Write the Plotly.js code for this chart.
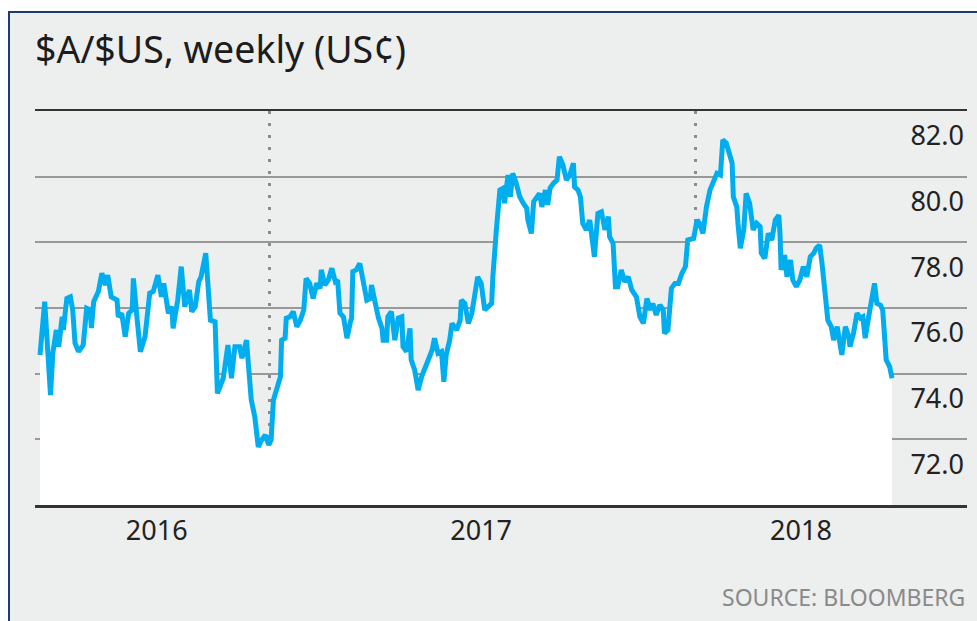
<!DOCTYPE html>
<html>
<head>
<meta charset="utf-8">
<script src="https://cdn.plot.ly/plotly-3.0.1.min.js"></script>
<style>
html,body{margin:0;padding:0;background:#fff;}
#chart{width:977px;height:621px;}
</style>
</head>
<body>
<div id="chart"></div>
<script>
const dates = [
"2016-06-18","2016-06-22","2016-06-27","2016-06-29","2016-07-02","2016-07-04","2016-07-07","2016-07-08","2016-07-11","2016-07-14",
"2016-07-16","2016-07-18","2016-07-21","2016-07-25","2016-07-28","2016-07-31","2016-08-01","2016-08-03","2016-08-07","2016-08-10",
"2016-08-13","2016-08-15","2016-08-18","2016-08-23","2016-08-24","2016-08-27","2016-08-30","2016-09-02","2016-09-05","2016-09-06",
"2016-09-09","2016-09-12","2016-09-16","2016-09-20","2016-09-23","2016-09-27","2016-09-30","2016-10-02","2016-10-06","2016-10-09",
"2016-10-10","2016-10-14","2016-10-17","2016-10-20","2016-10-24","2016-10-26","2016-10-29","2016-11-01","2016-11-03","2016-11-07",
"2016-11-11","2016-11-15","2016-11-17","2016-11-22","2016-11-26","2016-11-29","2016-12-02","2016-12-06","2016-12-08","2016-12-12",
"2016-12-13","2016-12-16","2016-12-19","2016-12-22","2016-12-25","2016-12-28","2016-12-31","2017-01-02","2017-01-04","2017-01-07",
"2017-01-10","2017-01-11","2017-01-14","2017-01-15","2017-01-18","2017-01-21","2017-01-24","2017-01-27","2017-01-30","2017-02-01",
"2017-02-04","2017-02-07","2017-02-10","2017-02-13","2017-02-14","2017-02-17","2017-02-20","2017-02-23","2017-02-26","2017-02-28",
"2017-03-02","2017-03-05","2017-03-08","2017-03-11","2017-03-12","2017-03-13","2017-03-16","2017-03-19","2017-03-22","2017-03-25",
"2017-03-28","2017-03-29","2017-04-01","2017-04-04","2017-04-07","2017-04-08","2017-04-11","2017-04-12","2017-04-15","2017-04-18",
"2017-04-21","2017-04-24","2017-04-25","2017-04-28","2017-05-01","2017-05-02","2017-05-05","2017-05-08","2017-05-11","2017-05-15",
"2017-05-20","2017-05-22","2017-05-25","2017-05-28","2017-05-30","2017-06-01","2017-06-04","2017-06-06","2017-06-10","2017-06-13",
"2017-06-14","2017-06-17","2017-06-20","2017-06-23","2017-06-28","2017-07-01","2017-07-04","2017-07-07","2017-07-10","2017-07-11",
"2017-07-13","2017-07-14","2017-07-17","2017-07-20","2017-07-21","2017-07-24","2017-07-26","2017-07-28","2017-07-31","2017-08-03",
"2017-08-06","2017-08-09","2017-08-10","2017-08-13","2017-08-15","2017-08-18","2017-08-20","2017-08-22","2017-08-25","2017-08-27",
"2017-08-29","2017-09-01","2017-09-04","2017-09-06","2017-09-09","2017-09-12","2017-09-15","2017-09-18","2017-09-19","2017-09-22",
"2017-09-24","2017-09-26","2017-09-29","2017-10-02","2017-10-04","2017-10-06","2017-10-09","2017-10-12","2017-10-15","2017-10-18",
"2017-10-19","2017-10-22","2017-10-24","2017-10-26","2017-10-29","2017-11-01","2017-11-04","2017-11-07","2017-11-11","2017-11-14",
"2017-11-17","2017-11-20","2017-11-23","2017-11-25","2017-11-28","2017-12-01","2017-12-04","2017-12-05","2017-12-08","2017-12-11",
"2017-12-14","2017-12-17","2017-12-20","2017-12-23","2017-12-25","2017-12-30","2018-01-02","2018-01-04","2018-01-07","2018-01-10",
"2018-01-13","2018-01-16","2018-01-19","2018-01-22","2018-01-23","2018-01-24","2018-01-27","2018-01-30","2018-02-01","2018-02-02",
"2018-02-05","2018-02-06","2018-02-08","2018-02-11","2018-02-13","2018-02-16","2018-02-19","2018-02-22","2018-02-25","2018-02-26",
"2018-03-01","2018-03-04","2018-03-07","2018-03-10","2018-03-13","2018-03-14","2018-03-15","2018-03-18","2018-03-20","2018-03-23",
"2018-03-25","2018-03-28","2018-03-31","2018-04-03","2018-04-06","2018-04-09","2018-04-12","2018-04-14","2018-04-17","2018-04-19",
"2018-04-22","2018-04-24","2018-04-27","2018-04-29","2018-05-02","2018-05-04","2018-05-06","2018-05-09","2018-05-12","2018-05-13",
"2018-05-16","2018-05-19","2018-05-22","2018-05-24","2018-05-26","2018-05-29","2018-06-01","2018-06-03","2018-06-05","2018-06-08",
"2018-06-10","2018-06-13","2018-06-16","2018-06-18"
];

const audUsdCents = [
74.57,76.19,73.35,74.63,75.33,74.82,75.73,75.33,76.29,76.34,
75.94,74.93,74.67,74.87,75.99,75.94,75.39,76.19,76.50,77.06,
76.70,77.00,76.34,76.24,75.73,75.84,75.13,75.84,75.94,76.90,
75.73,74.67,75.13,76.45,76.50,77.00,76.34,76.75,75.84,76.04,
75.38,76.24,77.26,76.04,76.55,75.89,76.04,76.80,76.95,77.67,
75.63,75.58,73.40,73.86,74.87,73.86,74.82,74.82,74.47,75.02,
74.52,73.20,72.69,71.77,71.98,72.13,71.83,71.98,73.20,73.50,
73.91,75.02,75.08,75.69,75.73,75.89,75.43,75.63,75.94,76.90,
76.75,76.29,76.75,76.60,77.16,76.70,76.85,77.21,76.80,76.85,
75.84,75.73,75.08,75.58,75.69,77.11,77.16,77.36,76.75,76.24,
76.29,76.70,76.19,75.69,75.38,75.02,75.02,75.73,75.89,75.02,
75.69,75.73,74.82,74.67,75.38,74.42,74.11,73.50,73.91,74.31,
74.72,75.08,74.62,74.67,73.75,74.57,75.02,75.53,75.33,75.63,
76.24,76.14,75.53,75.84,76.95,76.75,75.94,76.04,76.14,76.95,
78.27,78.38,79.59,79.65,79.19,80.05,79.39,80.10,79.80,79.39,
79.19,79.04,78.68,78.27,79.24,79.39,79.49,79.08,79.59,79.14,
79.65,79.80,79.90,80.61,80.36,79.90,80.05,80.41,79.69,79.59,
79.39,78.58,78.38,78.68,77.97,77.56,78.88,78.93,78.38,78.78,
78.17,77.97,76.65,76.65,77.16,76.80,76.95,76.55,76.34,75.73,
75.53,76.29,75.94,76.14,75.79,76.09,75.94,75.23,75.33,76.60,
76.75,76.75,77.06,77.26,78.07,78.12,78.68,78.58,78.27,79.08,
79.59,79.90,80.10,80.05,80.81,81.12,81.02,80.71,80.41,79.39,
79.08,78.58,77.82,78.38,79.49,79.19,78.38,78.58,78.48,77.67,
77.51,78.27,78.07,78.68,78.83,78.27,77.16,77.61,76.95,77.46,
76.85,76.65,76.85,77.26,76.95,77.56,77.67,77.82,77.92,77.36,
76.34,75.63,75.43,75.02,75.43,74.92,74.57,75.43,75.13,74.82,
75.23,75.84,75.69,75.73,75.08,75.73,76.45,76.75,76.14,76.09,
75.94,74.42,74.21,73.86
];

const yearLabels = ["2016", "2017", "2018"];
const yearLabelDates = ["2016-09-26", "2017-07-01", "2018-04-01"];
const yearBoundaries = ["2017-01-01", "2018-01-01"];
const yTicks = [72, 74, 76, 78, 80, 82];
const xRange = ["2016-06-13 17:00", "2018-08-21 06:00"];
const yRange = [70, 82];

const FONT = "Noto Sans, Open Sans, sans-serif";

const traces = [
  {
    x: dates, y: audUsdCents, type: "scatter", mode: "lines",
    fill: "tozeroy", fillcolor: "#ffffff",
    line: {width: 0, color: "rgba(0,0,0,0)"},
    xaxis: "x", yaxis: "y", hoverinfo: "skip", showlegend: false
  },
  {
    x: dates, y: audUsdCents, type: "scatter", mode: "lines",
    line: {color: "#00aeef", width: 5},
    xaxis: "x2", yaxis: "y2", showlegend: false
  }
];

const layout = {
  width: 977, height: 621,
  margin: {l: 35, r: 10, t: 111, b: 116, pad: 0},
  paper_bgcolor: "#ffffff",
  plot_bgcolor: "#edeeee",
  showlegend: false,
  title: {
    text: "$A/$US, weekly (US¢)",
    font: {family: FONT, size: 37.5, color: "#1c1c1c"},
    x: 0, xref: "paper", xanchor: "left",
    y: 1 - 50/621, yref: "container", yanchor: "middle"
  },
  xaxis: {
    type: "date", range: xRange,
    tickmode: "array", tickvals: yearLabelDates, ticktext: yearLabels,
    showgrid: false, zeroline: false,
    showline: true, linecolor: "#333333", linewidth: 2.5, mirror: true,
    ticks: "", tickfont: {family: FONT, size: 27, color: "#222222"},
    fixedrange: true
  },
  yaxis: {
    range: yRange, showgrid: false, zeroline: false,
    showticklabels: false, ticks: "", fixedrange: true
  },
  xaxis2: {
    type: "date", range: xRange, overlaying: "x", anchor: "y2",
    tickmode: "array", tickvals: yearBoundaries,
    showgrid: true, griddash: "3px,9px", gridcolor: "#8c8c8c", gridwidth: 3,
    showticklabels: false, ticks: "", showline: false, zeroline: false,
    fixedrange: true
  },
  yaxis2: {
    range: yRange, overlaying: "y", anchor: "x2", side: "right",
    tickmode: "array", tickvals: yTicks, tickformat: ".1f",
    showgrid: true, gridcolor: "#999999", gridwidth: 2,
    zeroline: false, showline: false, ticks: "",
    ticklabelposition: "inside", ticklabelshift: 25,
    tickfont: {family: FONT, size: 27, color: "#222222"},
    fixedrange: true
  },
  shapes: [
    {type: "rect", xref: "paper", yref: "paper", layer: "below",
     x0: (9-35)/932, x1: (985-35)/932, y0: (505-630)/394, y1: (505-12)/394,
     fillcolor: "#edeeee", line: {color: "#1d3b70", width: 2}}
  ],
  annotations: [
    {text: "SOURCE: BLOOMBERG", xref: "paper", yref: "paper",
     x: 1, xanchor: "right", y: (505-597)/394, yanchor: "middle",
     showarrow: false, font: {family: FONT, size: 23, color: "#8a8a8a"}}
  ]
};

Plotly.newPlot("chart", traces, layout, {staticPlot: true, displayModeBar: false});
</script>
</body>
</html>
